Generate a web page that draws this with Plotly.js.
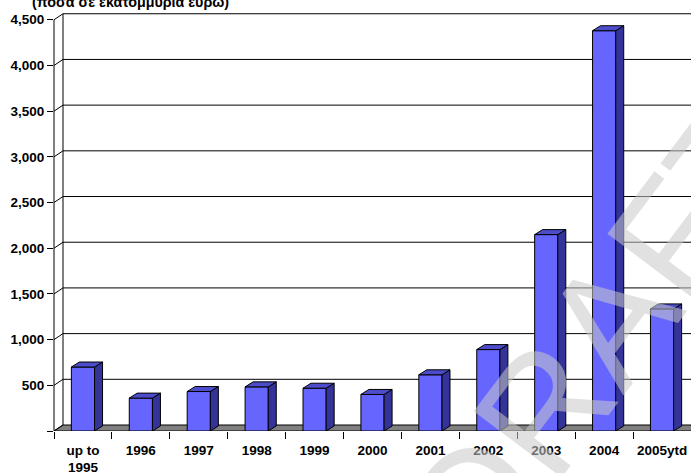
<!DOCTYPE html>
<html>
<head>
<meta charset="utf-8">
<script src="https://cdn.plot.ly/plotly-3.0.1.min.js"></script>
<style>html,body{margin:0;padding:0;background:#fff;}#chart{width:691px;height:473px;}</style>
</head>
<body>
<div id="chart"></div>
<script>
// ---- data ----
const categories = ['up to<br>1995', '1996', '1997', '1998', '1999', '2000', '2001', '2002', '2003', '2004', '2005ytd'];
const values = [700, 360, 432, 483, 468, 400, 615, 891, 2149, 4380, 1336];
const yTicks = [0, 500, 1000, 1500, 2000, 2500, 3000, 3500, 4000, 4500];
const titleText = '(ποσά σε εκατομμύρια ευρώ)';
const watermarkText = 'DRAFT';

// ---- geometry (pixels -> axis units) ----
const FIG_W = 691, FIG_H = 473;
const M = {l: 54, r: 0, t: 12, b: 41.5};
const plotW = FIG_W - M.l - M.r, plotH = FIG_H - M.t - M.b;
const xMin = -0.5, xMax = categories.length - 0.5;
const yMaxTick = 4500;
const pxPerY = (plotH - 7.75) / yMaxTick;      // front 4500 sits ~7.75px below plot top
const yTop = plotH / pxPerY;
const pxPerX = plotW / (xMax - xMin);
const wallDx = 9 / pxPerX, wallDy = 6 / pxPerY;   // depth of back wall
const barDx = 8 / pxPerX, barDy = 5 / pxPerY;     // depth of each bar
const BW = 0.4;

const xs = categories.map((_, i) => i);

// side and top faces built from the values
const sideX = [], sideY = [], topX = [], topY = [];
values.forEach((v, i) => {
  const r = i + BW / 2, l = i - BW / 2;
  sideX.push(r, r, r + barDx, r + barDx, r, null);
  sideY.push(0, v, v + barDy, barDy, 0, null);
  topX.push(l, r, r + barDx, l + barDx, l, null);
  topY.push(v, v, v + barDy, v + barDy, v, null);
});

const traces = [
  {type: 'bar', x: xs, y: values, width: BW,
   marker: {color: '#6666FF', line: {color: '#000', width: 1}}, hoverinfo: 'y'},
  {type: 'scatter', mode: 'lines', x: sideX, y: sideY, fill: 'toself',
   fillcolor: '#333399', line: {color: '#000', width: 1}, hoverinfo: 'skip'},
  {type: 'scatter', mode: 'lines', x: topX, y: topY, fill: 'toself',
   fillcolor: '#4D4DCC', line: {color: '#000', width: 1}, hoverinfo: 'skip'}
];

const shapes = [];
// floor
shapes.push({type: 'path', xref: 'x', yref: 'y', layer: 'below',
  path: `M ${xMin},0 L ${xMax},0 L ${xMax + wallDx},${wallDy} L ${xMin + wallDx},${wallDy} Z`,
  fillcolor: '#808080', line: {color: '#000', width: 1}});
// back wall gridlines + side wall diagonals
yTicks.forEach(v => {
  if (v > 0) {
    shapes.push({type: 'line', xref: 'x', yref: 'y', layer: 'below',
      x0: xMin + wallDx, x1: xMax + wallDx, y0: v + wallDy, y1: v + wallDy,
      line: {color: '#000', width: 1}});
  }
  shapes.push({type: 'line', xref: 'x', yref: 'y', layer: 'below',
    x0: xMin, x1: xMin + wallDx, y0: v, y1: v + wallDy,
    line: {color: '#000', width: 1}});
});
// back wall left edge
shapes.push({type: 'line', xref: 'x', yref: 'y', layer: 'below',
  x0: xMin + wallDx, x1: xMin + wallDx, y0: wallDy, y1: yMaxTick + wallDy,
  line: {color: '#000', width: 1}});
// front value axis line
shapes.push({type: 'line', xref: 'paper', yref: 'paper', layer: 'above',
  x0: 0, x1: 0, y0: 0, y1: yMaxTick / yTop, line: {color: '#000', width: 1}});

const tickFont = {family: 'Liberation Sans, Arial, sans-serif', size: 13.5, color: '#000', weight: 'bold'};

const layout = {
  width: FIG_W, height: FIG_H,
  margin: M,
  paper_bgcolor: '#fff', plot_bgcolor: '#fff',
  showlegend: false,
  title: {text: titleText, xref: 'container', yref: 'container',
    x: 32 / FIG_W, xanchor: 'left', y: 1 - 2 / FIG_H, yanchor: 'middle',
    font: {family: 'Liberation Sans, Arial, sans-serif', size: 14.3, color: '#000', weight: 'bold'}},
  xaxis: {range: [xMin, xMax], tickmode: 'array', tickvals: xs, ticktext: categories,
    ticks: '', showgrid: false, zeroline: false, showline: false, tickfont: tickFont,
    ticklabelstandoff: 9,
    minor: {tick0: -0.5, dtick: 1, ticks: 'outside', ticklen: 7, tickcolor: '#000', tickwidth: 1, showgrid: false},
    fixedrange: true},
  yaxis: {range: [0, yTop], tickmode: 'array', tickvals: yTicks,
    ticktext: yTicks.map(v => v === 0 ? '' : v.toLocaleString('en-US')),
    ticks: 'outside', ticklen: 6, tickcolor: '#000', tickwidth: 1,
    showgrid: false, zeroline: false, showline: false, tickfont: tickFont, fixedrange: true},
  shapes: shapes,
  annotations: [{text: watermarkText, xref: 'paper', yref: 'paper',
    x: (600 - M.l) / plotW, y: (FIG_H - M.b - 335) / plotH,
    xanchor: 'center', yanchor: 'middle',
    showarrow: false, textangle: -53,
    font: {family: 'Liberation Sans, Arial, sans-serif', size: 160, color: 'rgba(200,200,200,0.55)'}}]
};

Plotly.newPlot('chart', traces, layout, {displayModeBar: false, staticPlot: true});
</script>
</body>
</html>
